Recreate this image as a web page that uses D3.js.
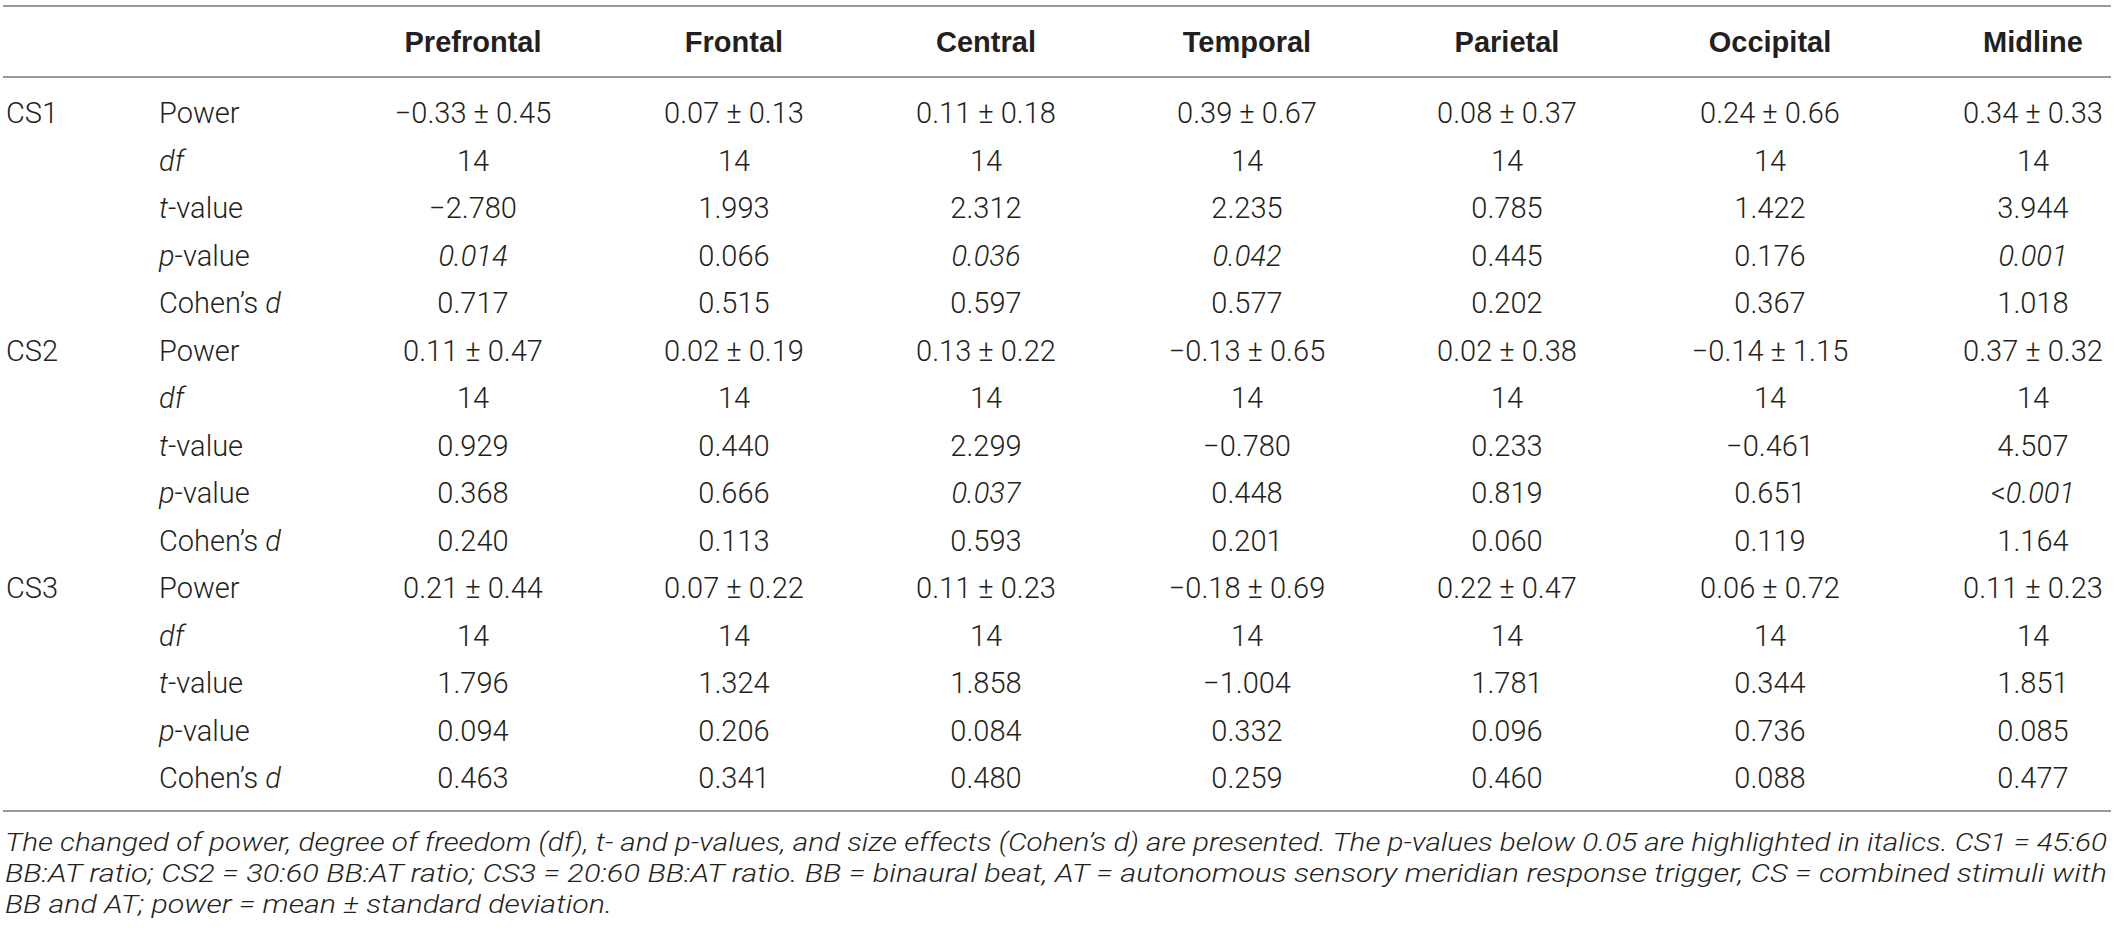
<!DOCTYPE html>
<html>
<head>
<meta charset="utf-8">
<script src="https://cdn.jsdelivr.net/npm/d3@7"></script>
<style>
  html, body { margin: 0; padding: 0; background: #fff; }
  svg { display: block; }
  text { font-family: Roboto, "Liberation Sans", Arial, sans-serif; font-weight: 300; fill: #231f20; }
  text.header { font-family: "Liberation Sans", Arial, Helvetica, sans-serif; font-weight: bold; }
</style>
</head>
<body>
<script>
// table content
var regions = ['Prefrontal', 'Frontal', 'Central', 'Temporal', 'Parietal', 'Occipital', 'Midline'];
var stimuli = ['CS1', 'CS2', 'CS3'];
var measures = ['Power', 'df', 't-value', 'p-value', 'Cohen\u2019s d'];

var powerMean = [
  [-0.33, 0.07, 0.11, 0.39, 0.08, 0.24, 0.34],
  [0.11, 0.02, 0.13, -0.13, 0.02, -0.14, 0.37],
  [0.21, 0.07, 0.11, -0.18, 0.22, 0.06, 0.11]
];
var powerSd = [
  [0.45, 0.13, 0.18, 0.67, 0.37, 0.66, 0.33],
  [0.47, 0.19, 0.22, 0.65, 0.38, 1.15, 0.32],
  [0.44, 0.22, 0.23, 0.69, 0.47, 0.72, 0.23]
];
var dfValues = [
  [14, 14, 14, 14, 14, 14, 14],
  [14, 14, 14, 14, 14, 14, 14],
  [14, 14, 14, 14, 14, 14, 14]
];
var tValues = [
  [-2.780, 1.993, 2.312, 2.235, 0.785, 1.422, 3.944],
  [0.929, 0.440, 2.299, -0.780, 0.233, -0.461, 4.507],
  [1.796, 1.324, 1.858, -1.004, 1.781, 0.344, 1.851]
];
var pValues = [
  ['0.014', '0.066', '0.036', '0.042', '0.445', '0.176', '0.001'],
  ['0.368', '0.666', '0.037', '0.448', '0.819', '0.651', '<0.001'],
  ['0.094', '0.206', '0.084', '0.332', '0.096', '0.736', '0.085']
];
var cohenD = [
  [0.717, 0.515, 0.597, 0.577, 0.202, 0.367, 1.018],
  [0.240, 0.113, 0.593, 0.201, 0.060, 0.119, 1.164],
  [0.463, 0.341, 0.480, 0.259, 0.460, 0.088, 0.477]
];
var footnote = [
  'The changed of power, degree of freedom (df), t- and p-values, and size effects (Cohen\u2019s d) are presented. The p-values below 0.05 are highlighted in italics. CS1 = 45:60',
  'BB:AT ratio; CS2 = 30:60 BB:AT ratio; CS3 = 20:60 BB:AT ratio. BB = binaural beat, AT = autonomous sensory meridian response trigger, CS = combined stimuli with',
  'BB and AT; power = mean \u00b1 standard deviation.'
];

var width = 2117;
var height = 934;
var fontSize = 29;
var lineColor = '#9a9a9a';

var minus = function(s) { return s.replace('-', '\u2212'); };
var fmt2 = function(v) { return minus(d3.format('.2f')(v)); };
var fmt3 = function(v) { return minus(d3.format('.3f')(v)); };

// flatten into rows
var rows = [];
stimuli.forEach(function(cs, s) {
  measures.forEach(function(m, k) {
    var cells = regions.map(function(r, j) {
      if(k === 0) { return {text: fmt2(powerMean[s][j]) + ' \u00b1 ' + fmt2(powerSd[s][j])}; }
      if(k === 1) { return {text: String(dfValues[s][j])}; }
      if(k === 2) { return {text: fmt3(tValues[s][j])}; }
      if(k === 3) {
        var p = pValues[s][j];
        var num = parseFloat(p.replace('<', ''));
        return {text: p, italic: num < 0.05};
      }
      return {text: fmt3(cohenD[s][j])};
    });
    rows.push({group: k === 0 ? cs : '', measure: m, k: k, cells: cells});
  });
});

var svg = d3.select('body')
  .append('svg')
  .attr('width', width)
  .attr('height', height);

// column centres are not quite evenly spaced in the original
var x = d3.scaleOrdinal()
  .domain(regions)
  .range([473, 734, 986, 1247, 1507, 1770, 2033]);

var y = d3.scaleLinear()
  .domain([0, rows.length - 1])
  .range([113, 778]);

// rules
[6, 77, 811].forEach(function(ly) {
  svg.append('line')
    .attr('x1', 3)
    .attr('x2', 2111)
    .attr('y1', ly)
    .attr('y2', ly)
    .style('stroke', lineColor)
    .style('stroke-width', 2);
});

// header
svg.selectAll('text.header')
  .data(regions)
  .enter()
  .append('text')
  .attr('class', 'header')
  .attr('x', function(d) { return x(d); })
  .attr('y', 52)
  .attr('text-anchor', 'middle')
  .style('font-size', '29px')
  .text(function(d) { return d; });

var rowG = svg.selectAll('g.row')
  .data(rows)
  .enter()
  .append('g')
  .attr('class', 'row')
  .attr('transform', function(d, i) { return 'translate(0,' + (y(i) + 10) + ')'; });

rowG.append('text')
  .attr('x', 6)
  .style('font-size', fontSize + 'px')
  .text(function(d) { return d.group; });

// measure labels with italic parts
rowG.append('text')
  .attr('x', 159)
  .style('font-size', fontSize + 'px')
  .each(function(d) {
    var t = d3.select(this);
    if(d.k === 0) {
      t.text('Power');
    } else if(d.k === 1) {
      t.append('tspan').style('font-style', 'italic').text('df');
    } else if(d.k === 2) {
      t.append('tspan').style('font-style', 'italic').text('t');
      t.append('tspan').text('-value');
    } else if(d.k === 3) {
      t.append('tspan').style('font-style', 'italic').text('p');
      t.append('tspan').text('-value');
    } else {
      t.append('tspan').text('Cohen\u2019s ');
      t.append('tspan').style('font-style', 'italic').text('d');
    }
  });

rowG.selectAll('text.cell')
  .data(function(d) { return d.cells; })
  .enter()
  .append('text')
  .attr('class', 'cell')
  .attr('x', function(d, j) { return x(regions[j]); })
  .attr('text-anchor', 'middle')
  .style('font-size', fontSize + 'px')
  .each(function(d) {
    var t = d3.select(this);
    if(d.italic && d.text.charAt(0) === '<') {
      t.append('tspan').text('<');
      t.append('tspan').style('font-style', 'italic').text(d.text.slice(1));
    } else {
      t.style('font-style', d.italic ? 'italic' : 'normal').text(d.text);
    }
  });

// footnote
var noteWidths = [2102, 2102, 607];
svg.selectAll('text.note')
  .data(footnote)
  .enter()
  .append('text')
  .attr('class', 'note')
  .attr('x', 5)
  .attr('y', function(d, i) { return 851 + i * 31; })
  .attr('textLength', function(d, i) { return noteWidths[i]; })
  .attr('lengthAdjust', 'spacingAndGlyphs')
  .style('font-size', '25px')
  .style('font-style', 'italic')
  .text(function(d) { return d; });
</script>
</body>
</html>
